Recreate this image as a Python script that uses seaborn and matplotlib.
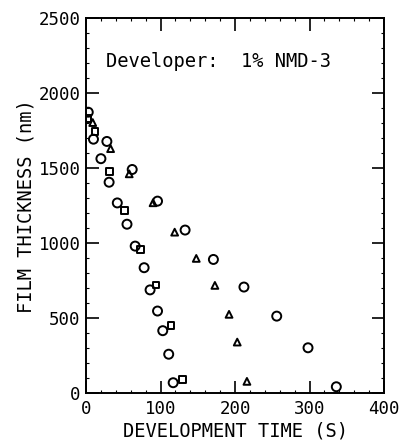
import matplotlib
matplotlib.use("Agg")
import matplotlib.pyplot as plt
import seaborn as sns
import pandas as pd
from matplotlib.ticker import MultipleLocator

# Data
circle_time = [3, 10, 20, 28, 31, 42, 55, 66, 78, 86, 96, 103, 111, 117,
               62, 96, 133, 171, 212, 256, 298, 336]
circle_thick = [1875, 1695, 1565, 1680, 1408, 1270, 1128, 982, 838, 690, 549, 418, 261, 71,
                1493, 1282, 1089, 893, 709, 515, 304, 44]

square_time = [1.5, 12, 31, 52, 73, 94, 114, 129]
square_thick = [1835, 1744, 1478, 1222, 962, 722, 455, 95]

triangle_time = [9, 33, 58, 90, 119, 148, 173, 192, 203, 216]
triangle_thick = [1806, 1632, 1464, 1271, 1075, 900, 720, 527, 342, 80]

x_ticks = [0, 100, 200, 300, 400]
y_ticks = [0, 500, 1000, 1500, 2000, 2500]

sns.set_style("ticks")
plt.rcParams['font.family'] = ['DejaVu Sans Mono', 'DejaVu Sans']
plt.rcParams['text.color'] = 'black'
plt.rcParams['axes.labelcolor'] = 'black'

fig = plt.figure(figsize=(4.04, 4.40), dpi=100)
ax = fig.add_axes([0.2129, 0.106, 0.7376, 0.852])

def draw(t, h, marker, size):
    df = pd.DataFrame({"t": t, "h": h})
    sns.scatterplot(data=df, x="t", y="h", ax=ax, marker=marker, s=size,
                    facecolor="none", edgecolor="black", linewidth=1.4, legend=False)

draw(circle_time, circle_thick, "o", 42)
draw(square_time, square_thick, "s", 24)
draw(triangle_time, triangle_thick, "^", 24)

ax.set_xlim(0, 400)
ax.set_ylim(0, 2500)
ax.set_xticks(x_ticks)
ax.set_yticks(y_ticks)
ax.xaxis.set_minor_locator(MultipleLocator(20))
ax.yaxis.set_minor_locator(MultipleLocator(100))
ax.tick_params(which="major", direction="in", length=9, width=1.2,
               top=True, right=True, labelsize=12.5, colors="black")
ax.tick_params(which="minor", direction="in", length=2, width=0.8,
               top=True, right=True, colors="black")
ax.tick_params(axis="x", pad=5)
ax.tick_params(axis="y", pad=4)
for sp in ax.spines.values():
    sp.set_linewidth(1.4)
    sp.set_color("black")

ax.set_xlabel("DEVELOPMENT TIME (S)", fontsize=13.5, labelpad=2, color="black")
ax.set_ylabel("FILM THICKNESS (nm)", fontsize=13.5, labelpad=2, color="black")
ax.text(0.067, 0.885, "Developer:  1% NMD-3", transform=ax.transAxes,
        fontsize=13.5, ha="left", va="center", color="black")

fig.savefig("out.png", dpi=100)
